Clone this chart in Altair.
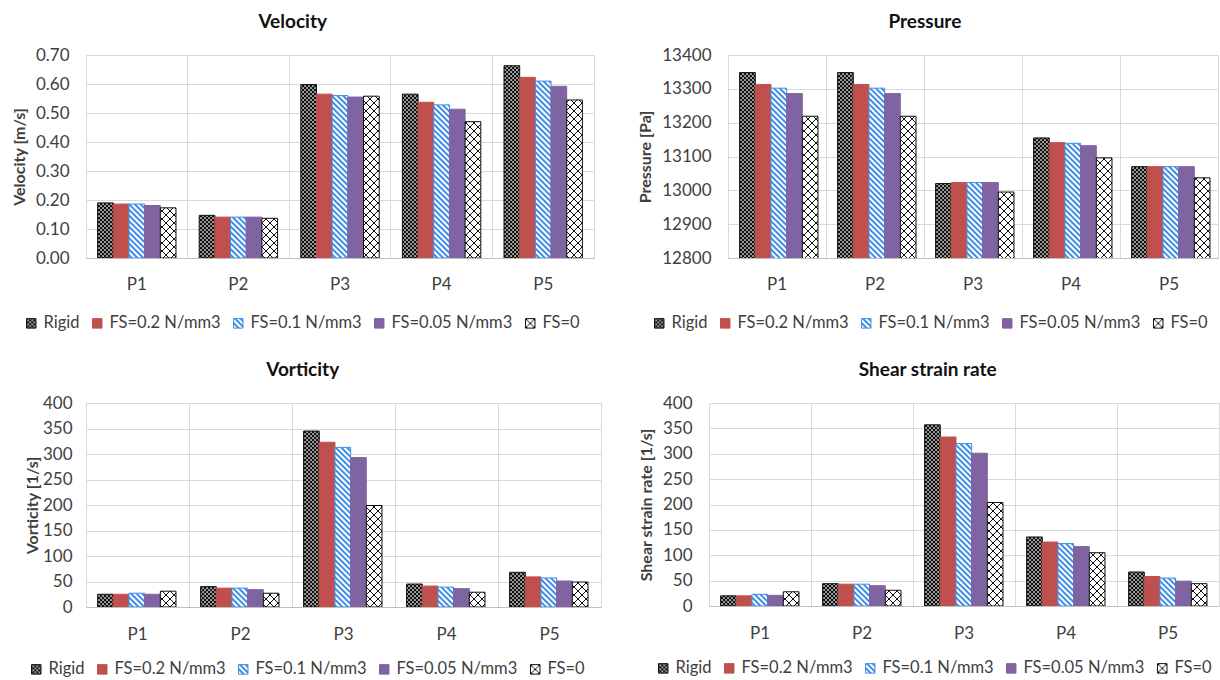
import altair as alt
import pandas as pd
import jinja2

points = ["P1", "P2", "P3", "P4", "P5"]
series = ["Rigid", "FS=0.2 N/mm3", "FS=0.1 N/mm3", "FS=0.05 N/mm3", "FS=0"]

velocity = {
    "Rigid": [0.190, 0.147, 0.598, 0.565, 0.663],
    "FS=0.2 N/mm3": [0.186, 0.141, 0.565, 0.537, 0.623],
    "FS=0.1 N/mm3": [0.186, 0.141, 0.560, 0.528, 0.610],
    "FS=0.05 N/mm3": [0.181, 0.141, 0.555, 0.513, 0.592],
    "FS=0": [0.173, 0.137, 0.558, 0.470, 0.545],
}
pressure = {
    "Rigid": [13348, 13348, 13020, 13155, 13070],
    "FS=0.2 N/mm3": [13313, 13313, 13023, 13141, 13070],
    "FS=0.1 N/mm3": [13302, 13302, 13023, 13139, 13070],
    "FS=0.05 N/mm3": [13286, 13286, 13023, 13132, 13070],
    "FS=0": [13219, 13219, 12995, 13096, 13037],
}
vorticity = {
    "Rigid": [25, 40, 345, 45, 68],
    "FS=0.2 N/mm3": [25, 37, 323, 41, 59],
    "FS=0.1 N/mm3": [27, 37, 313, 39, 57],
    "FS=0.05 N/mm3": [25, 34, 293, 36, 51],
    "FS=0": [31, 27, 199, 29, 49],
}
shear = {
    "Rigid": [20, 44, 357, 136, 67],
    "FS=0.2 N/mm3": [20, 43, 333, 126, 58],
    "FS=0.1 N/mm3": [23, 43, 320, 123, 55],
    "FS=0.05 N/mm3": [21, 40, 301, 117, 49],
    "FS=0": [28, 31, 204, 105, 44],
}

fills = ["url(#pRigid)", "#C0504D", "url(#pBlue)", "#8064A2", "url(#pCross)"]
strokes = ["#111111", "#C0504D", "#3F8EE6", "#8064A2", "#111111"]

FONT = "Lato"
TXT = "#404040"


def long_df(d):
    rows = []
    for s in series:
        for p, v in zip(points, d[s]):
            rows.append({"point": p, "series": s, "value": v})
    return pd.DataFrame(rows)


def panel(d, title, ytitle, domain, ticks, fmt, w, h, lx, ly, tpad, lpad, xpad, tdx):
    return (
        alt.Chart(long_df(d))
        .mark_bar(strokeWidth=1, clip=True)
        .encode(
            x=alt.X(
                "point:N",
                sort=points,
                scale=alt.Scale(paddingInner=0, paddingOuter=0),
                axis=alt.Axis(
                    title=None, labelAngle=0, bandPosition=0,
                    grid=True, gridColor="#d9d9d9", ticks=False,
                    domainColor="#bfbfbf", labelFontSize=17, labelColor=TXT,
                    labelFont=FONT, labelPadding=xpad,
                ),
            ),
            xOffset=alt.XOffset(
                "series:N", sort=series,
                scale=alt.Scale(paddingInner=0, paddingOuter=0.74),
            ),
            y=alt.Y(
                "value:Q",
                scale=alt.Scale(domain=domain, zero=False, nice=False),
                axis=alt.Axis(
                    title=ytitle, values=ticks, format=fmt, grid=True,
                    gridColor="#d9d9d9", ticks=False, domain=False,
                    labelFontSize=17, labelColor=TXT, labelFont=FONT,
                    labelPadding=lpad, titleFont=FONT, titleFontSize=16,
                    titleFontWeight="bold", titleColor=TXT, titlePadding=tpad,
                ),
            ),
            fill=alt.Fill(
                "series:N", sort=series,
                scale=alt.Scale(domain=series, range=fills),
                legend=alt.Legend(
                    title=None, orient="none", legendX=lx, legendY=ly,
                    direction="horizontal", columns=5, symbolType="square",
                    symbolSize=90, symbolStrokeWidth=1, labelFontSize=16.5,
                    labelFont=FONT, labelColor=TXT, labelOffset=4,
                    columnPadding=9,
                ),
            ),
            stroke=alt.Stroke(
                "series:N", sort=series,
                scale=alt.Scale(domain=series, range=strokes),
                legend=None,
            ),
        )
        .properties(
            width=w, height=h,
            title=alt.TitleParams(
                title, fontSize=19, fontWeight="bold", font=FONT, color="#111111",
                anchor="middle", frame="bounds", offset=14, dx=tdx,
            ),
        )
    )


v = panel(velocity, "Velocity", "Velocity [m/s]", [0, 0.7],
          [0, 0.1, 0.2, 0.3, 0.4, 0.5, 0.6, 0.7], ".2f", 508, 203, -63, 260, 8, 17, 18, -10)
p = panel(pressure, "Pressure", "Pressure [Pa]", [12800, 13400],
          [12800, 12900, 13000, 13100, 13200, 13300, 13400], "d", 490, 203, -77, 260, 8, 17, 18, -3)
vo = panel(vorticity, "Vorticity", "Vorticity [1/s]", [0, 400],
           [0, 50, 100, 150, 200, 250, 300, 350, 400], "d", 515, 204, -58, 258, 2, 14, 19, -10)
sh = panel(shear, "Shear strain rate", "Shear strain rate [1/s]", [0, 400],
           [0, 50, 100, 150, 200, 250, 300, 350, 400], "d", 510, 203, -54, 257, 8, 17, 19, -1)

top = alt.hconcat(v, p, spacing=42).resolve_scale(fill="independent", stroke="independent").resolve_legend(fill="independent", stroke="independent")
bot = alt.hconcat(vo, sh, spacing=35).resolve_scale(fill="independent", stroke="independent").resolve_legend(fill="independent", stroke="independent")

chart = (
    alt.vconcat(top, bot, spacing=27)
    .resolve_scale(fill="independent", stroke="independent")
    .resolve_legend(fill="independent", stroke="independent")
    .properties(padding={"left": 10, "top": 12, "right": 0, "bottom": 0}, background="white")
    .configure_view(stroke="#d9d9d9")
)

TEMPLATE = jinja2.Template("""<!DOCTYPE html>
<html>
<head>
  <style>
    #{{ output_div }}.vega-embed { width: 100%; display: flex; }
  </style>
  <script type="text/javascript" src="{{ base_url }}/vega@{{ vega_version }}"></script>
  <script type="text/javascript" src="{{ base_url }}/vega-lite@{{ vegalite_version }}"></script>
  <script type="text/javascript" src="{{ base_url }}/vega-embed@{{ vegaembed_version }}"></script>
</head>
<body>
  <svg width="0" height="0" style="position:absolute" aria-hidden="true">
    <defs>
      <pattern id="pRigid" patternUnits="userSpaceOnUse" width="4" height="4">
        <rect width="4" height="4" fill="#111111"/>
        <rect x="0.3" y="0.3" width="1.5" height="1.5" fill="#ffffff"/>
        <rect x="2.3" y="2.3" width="1.5" height="1.5" fill="#ffffff"/>
      </pattern>
      <pattern id="pBlue" patternUnits="userSpaceOnUse" width="4" height="4" patternTransform="rotate(-45)">
        <rect width="4" height="4" fill="#ffffff"/>
        <rect width="2" height="4" fill="#3F8EE6"/>
      </pattern>
      <pattern id="pCross" patternUnits="userSpaceOnUse" width="8" height="8">
        <rect width="8" height="8" fill="#ffffff"/>
        <path d="M0,0 L8,8 M8,0 L0,8" stroke="#111111" stroke-width="1"/>
      </pattern>
    </defs>
  </svg>
  <div id="{{ output_div }}"></div>
  <script>
    (function(vegaEmbed) {
      var spec = {{ spec }};
      var embedOpt = {{ embed_options }};
      const el = document.getElementById('{{ output_div }}');
      vegaEmbed("#{{ output_div }}", spec, embedOpt).catch(function(error) {
        el.innerHTML = '<div style="color:red;">' + error.message + '</div>';
      });
    })(vegaEmbed);
  </script>
</body>
</html>
""")

chart.save("out.html", embed_options={"renderer": "svg", "actions": False}, template=TEMPLATE)
